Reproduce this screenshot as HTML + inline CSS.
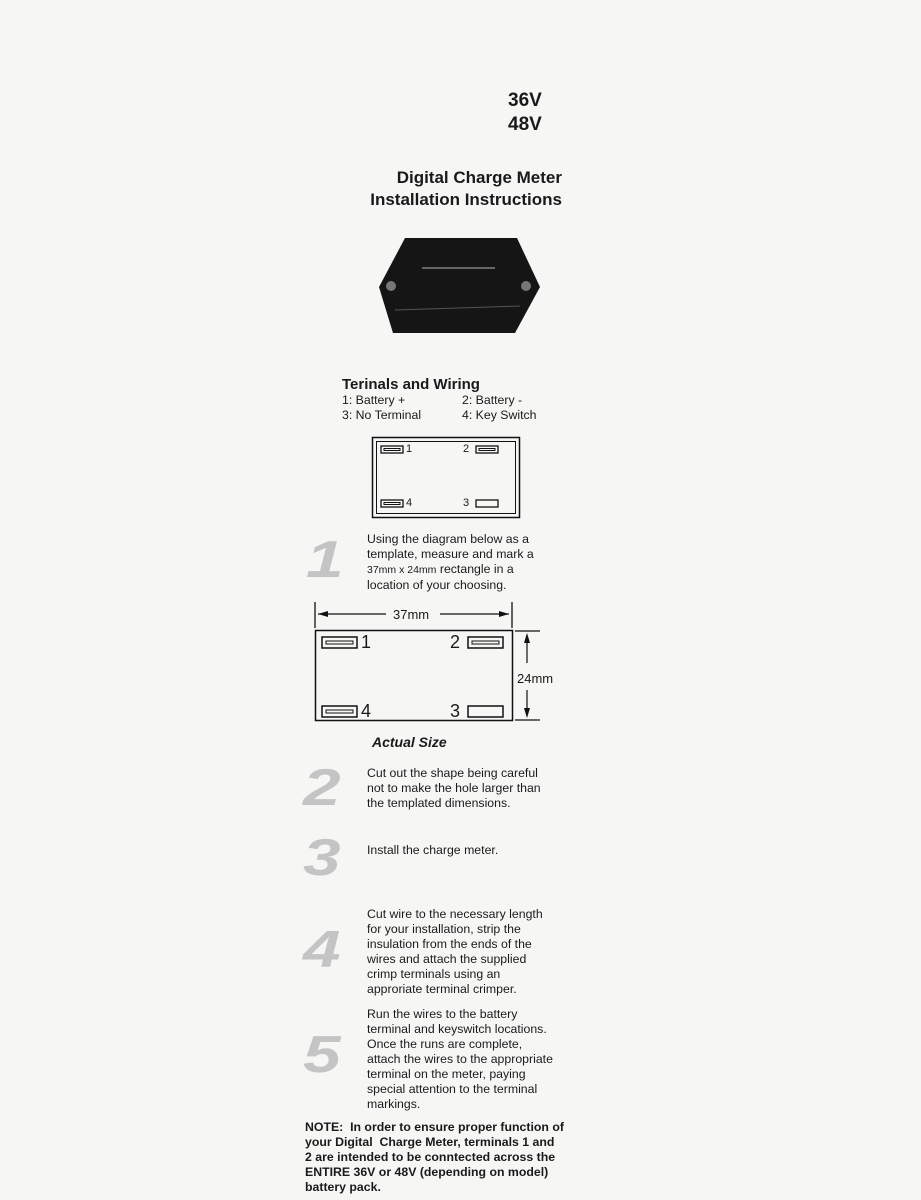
<!DOCTYPE html>
<html><head><meta charset="utf-8"><style>
body{margin:0;background:#f7f7f7;}
#p{position:relative;width:921px;height:1200px;overflow:hidden;background:#f6f6f5;font-family:"Liberation Sans",sans-serif;color:#1a1a1a;}
.t{position:absolute;white-space:nowrap;}
.b{font-weight:bold;}
.s{font-size:12.3px;line-height:15px;}
.n{position:absolute;font-size:52px;font-weight:bold;font-style:italic;color:#c4c4c4;line-height:50px;transform:scaleX(1.3);transform-origin:left top;}
</style></head><body><div id="p">
<div class="t b" style="left:508px;top:89px;font-size:19px;line-height:24px">36V<br>48V</div>
<div class="t b" style="left:350px;top:167px;width:212px;text-align:right;font-size:17px;line-height:22px">Digital Charge Meter<br>Installation Instructions</div>
<svg style="position:absolute;left:0;top:0" width="921" height="1200">
<polygon points="405,238 517,238 540,287 515,333 393,333 379,287" fill="#151515"/>
<circle cx="391" cy="286" r="5" fill="#777"/><circle cx="526" cy="286" r="5" fill="#777"/>
<line x1="422" y1="268" x2="495" y2="268" stroke="#666" stroke-width="2"/>
<line x1="395" y1="310" x2="520" y2="306" stroke="#555" stroke-width="1"/>
<g fill="none" stroke="#111">
<rect x="372.5" y="437.5" width="147" height="80" stroke-width="1.5"/>
<rect x="376.5" y="441.5" width="139" height="72" stroke-width="1"/>
<rect x="381" y="446" width="22" height="7" stroke-width="1.3"/><rect x="384" y="448.5" width="16" height="2" stroke-width="1"/>
<rect x="476" y="446" width="22" height="7" stroke-width="1.3"/><rect x="479" y="448.5" width="16" height="2" stroke-width="1"/>
<rect x="381" y="500" width="22" height="7" stroke-width="1.3"/><rect x="384" y="502.5" width="16" height="2" stroke-width="1"/>
<rect x="476" y="500" width="22" height="7" stroke-width="1.3"/>
<rect x="315.5" y="630.5" width="197" height="90" stroke-width="1.5"/>
<rect x="322" y="637" width="35" height="11" stroke-width="1.5"/><rect x="326" y="641" width="27" height="3" stroke-width="1"/>
<rect x="468" y="637" width="35" height="11" stroke-width="1.5"/><rect x="472" y="641" width="27" height="3" stroke-width="1"/>
<rect x="322" y="706" width="35" height="11" stroke-width="1.5"/><rect x="326" y="710" width="27" height="3" stroke-width="1"/>
<rect x="468" y="706" width="35" height="11" stroke-width="1.5"/>
<line x1="315" y1="602" x2="315" y2="628" stroke-width="1.3"/>
<line x1="512" y1="602" x2="512" y2="628" stroke-width="1.3"/>
<line x1="318" y1="614" x2="386" y2="614" stroke-width="1.2"/>
<line x1="440" y1="614" x2="509" y2="614" stroke-width="1.2"/>
<line x1="515" y1="631" x2="540" y2="631" stroke-width="1.2"/>
<line x1="515" y1="720" x2="540" y2="720" stroke-width="1.2"/>
<line x1="527" y1="636" x2="527" y2="663" stroke-width="1.2"/>
<line x1="527" y1="690" x2="527" y2="716" stroke-width="1.2"/>
</g>
<polygon points="318,614 328,611 328,617" fill="#111"/>
<polygon points="509,614 499,611 499,617" fill="#111"/>
<polygon points="527,633 524,643 530,643" fill="#111"/>
<polygon points="527,718 524,708 530,708" fill="#111"/>
</svg>
<div class="t" style="left:406px;top:443px;font-size:11px">1</div>
<div class="t" style="left:463px;top:443px;font-size:11px">2</div>
<div class="t" style="left:406px;top:497px;font-size:11px">4</div>
<div class="t" style="left:463px;top:497px;font-size:11px">3</div>
<div class="t" style="left:393px;top:607px;font-size:13px">37mm</div>
<div class="t" style="left:517px;top:671px;font-size:13px">24mm</div>
<div class="t" style="left:361px;top:632px;font-size:18px">1</div>
<div class="t" style="left:450px;top:632px;font-size:18px">2</div>
<div class="t" style="left:361px;top:701px;font-size:18px">4</div>
<div class="t" style="left:450px;top:701px;font-size:18px">3</div>
<div class="t b" style="left:372px;top:734px;font-size:14px;font-style:italic">Actual Size</div>
<div class="t b" style="left:342px;top:376px;font-size:15px">Terinals and Wiring</div>
<div class="t s" style="left:342px;top:393px">1: Battery +<br>3: No Terminal</div>
<div class="t s" style="left:462px;top:393px">2: Battery -<br>4: Key Switch</div>
<div class="n" style="left:306px;top:535px">1</div>
<div class="n" style="left:303px;top:763px">2</div>
<div class="n" style="left:303px;top:833px">3</div>
<div class="n" style="left:303px;top:925px">4</div>
<div class="n" style="left:303px;top:1030px">5</div>
<div class="t s" style="left:367px;top:532px">Using the diagram below as a<br>template, measure and mark a<br><span style="font-size:10.5px">37mm x 24mm</span> rectangle in a<br>location of your choosing.</div>
<div class="t s" style="left:367px;top:766px">Cut out the shape being careful<br>not to make the hole larger than<br>the templated dimensions.</div>
<div class="t s" style="left:367px;top:843px">Install the charge meter.</div>
<div class="t s" style="left:367px;top:907px">Cut wire to the necessary length<br>for your installation, strip the<br>insulation from the ends of the<br>wires and attach the supplied<br>crimp terminals using an<br>approriate terminal crimper.</div>
<div class="t s" style="left:367px;top:1007px">Run the wires to the battery<br>terminal and keyswitch locations.<br>Once the runs are complete,<br>attach the wires to the appropriate<br>terminal on the meter, paying<br>special attention to the terminal<br>markings.</div>
<div class="t s b" style="left:305px;top:1120px">NOTE:&nbsp; In order to ensure proper function of<br>your Digital&nbsp; Charge Meter, terminals 1 and<br>2 are intended to be conntected across the<br>ENTIRE 36V or 48V (depending on model)<br>battery pack.</div>
</div></body></html>
